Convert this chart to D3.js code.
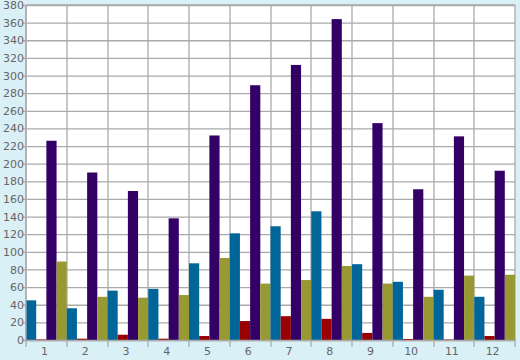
<!DOCTYPE html>
<html><head><meta charset="utf-8">
<script src="https://cdn.jsdelivr.net/npm/d3@7/dist/d3.min.js"></script>
<style>
html,body{margin:0;padding:0;background:#d9f0f7;}
svg{display:block;}
</style></head>
<body>
<svg id="c" width="520" height="360"></svg>
<script>
const categories = ["1","2","3","4","5","6","7","8","9","10","11","12"];
const seriesNames = ["A","B","C","D"];
const seriesA = [45, 36, 56, 58, 87, 121, 129, 146, 86, 66, 57, 49];
const seriesB = [0.7, 1.5, 6, 1.5, 4.5, 21.5, 27, 24, 8, 1.2, 0.6, 4.5];
const seriesC = [226, 190, 169, 138, 232, 289, 312, 364, 246, 171, 231, 192];
const seriesD = [89, 49, 48, 51, 93, 64, 68, 84, 64, 49, 73, 74];
const colors = ["#006699", "#990000", "#330066", "#999933"];
const yTicks = d3.range(0, 381, 20);

const allSeries = [seriesA, seriesB, seriesC, seriesD];
const svg = d3.select("#c");
const W = 520, H = 360;
const m = {l: 26, r: 5, t: 5, b: 20};
const x = d3.scaleBand().domain(categories).range([m.l, W - m.r]).padding(0);
const xs = d3.scaleBand().domain(seriesNames).range([0, x.bandwidth()]).padding(0);
const y = d3.scaleLinear().domain([0, 380]).range([H - m.b, m.t]);

svg.append("rect").attr("x", m.l).attr("y", m.t)
  .attr("width", W - m.r - m.l).attr("height", H - m.b - m.t).attr("fill", "#fff");

// horizontal grid + y ticks
const ya = d3.axisLeft(y).tickValues(yTicks).tickSize(-(W - m.r - m.l)).tickPadding(5).tickSizeOuter(0);
const gy = svg.append("g").attr("transform", `translate(${m.l},0)`).call(ya);
gy.select(".domain").remove();
gy.selectAll(".tick line").attr("stroke", "#aaaaaa").attr("stroke-width", 1.3).attr("x1", -3);
gy.selectAll(".tick text").attr("fill", "#666").style("font-family", "DejaVu Sans, Verdana, sans-serif").style("font-size", "11px").attr("x", -2);

// vertical grid at category boundaries
const bounds = categories.map(c => x(c)).concat([W - m.r]);
svg.append("g").selectAll("line").data(bounds).join("line")
  .attr("x1", d => Math.round(d)).attr("x2", d => Math.round(d))
  .attr("y1", m.t).attr("y2", H - m.b + 7)
  .attr("stroke", "#aaaaaa").attr("stroke-width", 1.3);

// bars
const groups = svg.append("g").selectAll("g").data(categories).join("g")
  .attr("transform", c => `translate(${x(c)},0)`);
groups.selectAll("rect").data((c, i) => allSeries.map((s, k) => ({k, v: s[i]}))).join("rect")
  .attr("x", d => xs(seriesNames[d.k]))
  .attr("width", xs.bandwidth())
  .attr("y", d => y(d.v))
  .attr("height", d => y(0) - y(d.v))
  .attr("fill", d => colors[d.k]);

// x axis
const xa = d3.axisBottom(x).tickSize(0).tickPadding(7);
const gx = svg.append("g").attr("transform", `translate(0,${H - m.b})`).call(xa);
gx.select(".domain").attr("stroke", "#aaaaaa").attr("stroke-width", 1.3);
gx.selectAll(".tick text").attr("fill", "#666").style("font-family", "DejaVu Sans, Verdana, sans-serif").style("font-size", "11px").attr("dx", -2);

// plot border top/left/right
svg.append("line").attr("x1", m.l).attr("x2", W - m.r).attr("y1", m.t).attr("y2", m.t).attr("stroke", "#aaaaaa").attr("stroke-width", 1.3);
svg.append("line").attr("x1", m.l).attr("x2", m.l).attr("y1", m.t).attr("y2", H - m.b).attr("stroke", "#aaaaaa").attr("stroke-width", 1.3);
</script>
</body></html>
